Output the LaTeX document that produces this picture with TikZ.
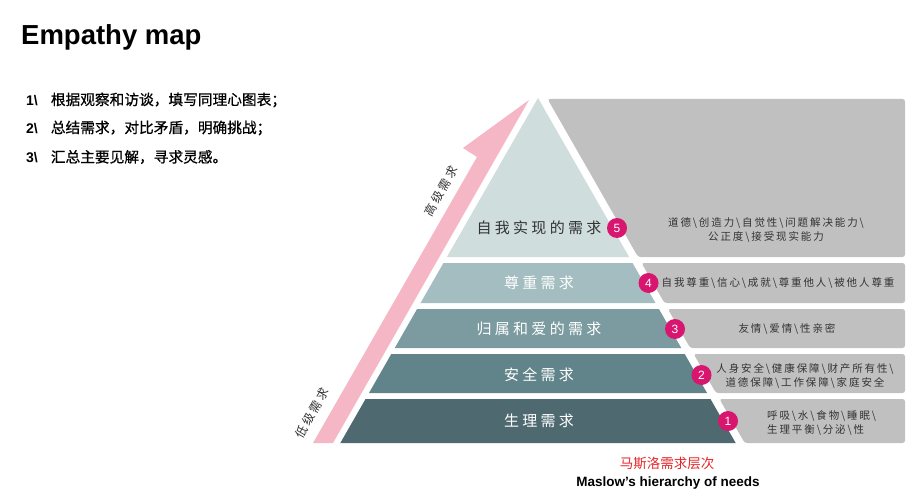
\documentclass[tikz,border=0pt]{standalone}
\usepackage{fontspec}
\setmainfont{Liberation Sans}
\newfontfamily\cjk{Noto Sans CJK SC}
\newfontfamily\cjkheavy{Noto Sans CJK SC}[FakeBold=0.6]
\definecolor{lvlfive}{HTML}{CFDDDD}
\definecolor{lvlfour}{HTML}{A3BDC1}
\definecolor{lvlthree}{HTML}{7B9BA0}
\definecolor{lvltwo}{HTML}{608489}
\definecolor{lvlone}{HTML}{4E6A70}
\definecolor{panelgray}{HTML}{C0C0C0}
\definecolor{paneltxt}{HTML}{333333}
\definecolor{arrowpink}{HTML}{F5B6C6}
\definecolor{badgemag}{HTML}{D8156F}
\definecolor{capred}{HTML}{E8262A}
\begin{document}
\begin{tikzpicture}[x=1pt,y=-1pt,
  pyrtext/.style={inner sep=0pt, font=\cjk\fontsize{15}{18}\selectfont\addfontfeature{LetterSpace=22}},
  paneltext/.style={inner sep=0pt, align=center, text=paneltxt,
     font=\cjk\fontsize{10.5}{14.5}\selectfont\addfontfeature{LetterSpace=18}},
  sidetext/.style={inner sep=0pt, text=paneltxt, rotate=60,
     font=\cjk\fontsize{12}{14}\selectfont\addfontfeature{LetterSpace=20}},
  badge/.style={circle, fill=badgemag, text=white, minimum size=20pt, inner sep=0pt,
     font=\fontsize{12}{12}\selectfont},
  listline/.style={inner sep=0pt, anchor=west, font=\fontsize{14}{16}\selectfont},
  panel/.style={fill=panelgray, rounded corners=2.5pt}
]
\useasboundingbox (0,0) rectangle (913,500);
\fill[white] (0,0) rectangle (913,500);

% edge coordinates
\foreach \y in {98,99,257,263,303,309,348,354,393,399,443} {
  \coordinate (R\y) at ({538+0.573*(\y-98)},\y);
  \coordinate (L\y) at ({538-0.573*(\y-98)},\y);
  \coordinate (G\y) at ({547+0.573*(\y-98)},\y);
}

% title and list
\node[inner sep=0pt, anchor=base west, font=\bfseries\fontsize{27.5}{30}\selectfont] (title) at (21,45) {Empathy map};
\node[listline] (l1) at (26,100) {{\bfseries 1\textbackslash}\hspace{13pt}{\cjkheavy\fontsize{14.7}{16}\selectfont 根据观察和访谈，填写同理心图表；}};
\node[listline] (l2) at (26,128) {{\bfseries 2\textbackslash}\hspace{13pt}{\cjkheavy\fontsize{14.7}{16}\selectfont 总结需求，对比矛盾，明确挑战；}};
\node[listline] (l3) at (26,157) {{\bfseries 3\textbackslash}\hspace{13pt}{\cjkheavy\fontsize{14.7}{16}\selectfont 汇总主要见解，寻求灵感。}};

% pink arrow
\fill[arrowpink] (313,443) -- (477,157) -- (463,148) -- (529,100) -- (333,443) -- cycle;

% pyramid
\fill[lvlfive] (R98) -- (R257) -- (L257) -- cycle;
\fill[lvlfour] (L263) -- (R263) -- (R303) -- (L303) -- cycle;
\fill[lvlthree] (L309) -- (R309) -- (R348) -- (L348) -- cycle;
\fill[lvltwo] (L354) -- (R354) -- (R393) -- (L393) -- cycle;
\fill[lvlone] (L399) -- (R399) -- (R443) -- (L443) -- cycle;

% gray panels
\fill[panel] (G99) -- (905,99) -- (905,257) -- (G257) -- cycle;
\fill[panel] (G263) -- (905,263) -- (905,303) -- (G303) -- cycle;
\fill[panel] (G309) -- (905,309) -- (905,348) -- (G348) -- cycle;
\fill[panel] (G354) -- (905,354) -- (905,393) -- (G393) -- cycle;
\fill[panel] (G399) -- (905,399) -- (905,443) -- (G443) -- cycle;

% pyramid texts
\node[pyrtext, text=paneltxt] (p5) at (539,228) {自我实现的需求};
\node[pyrtext, text=white] (p4) at (539,283) {尊重需求};
\node[pyrtext, text=white] (p3) at (539,329) {归属和爱的需求};
\node[pyrtext, text=white] (p2) at (539,375) {安全需求};
\node[pyrtext, text=white] (p1) at (539,421) {生理需求};

% panel texts
\node[paneltext] (t5) at (766,230) {道德\textbackslash 创造力\textbackslash 自觉性\textbackslash 问题解决能力\textbackslash\\公正度\textbackslash 接受现实能力};
\node[paneltext] (t4) at (778,283) {自我尊重\textbackslash 信心\textbackslash 成就\textbackslash 尊重他人\textbackslash 被他人尊重};
\node[paneltext] (t3) at (787,329) {友情\textbackslash 爱情\textbackslash 性亲密};
\node[paneltext] (t2) at (805,376) {人身安全\textbackslash 健康保障\textbackslash 财产所有性\textbackslash\\道德保障\textbackslash 工作保障\textbackslash 家庭安全};
\node[paneltext, align=left, anchor=west] (t1) at (767,423) {呼吸\textbackslash 水\textbackslash 食物\textbackslash 睡眠\textbackslash\\生理平衡\textbackslash 分泌\textbackslash 性};

% badges
\node[badge] (b5) at (617,228) {5};
\node[badge] (b4) at (648.5,283) {4};
\node[badge] (b3) at (675,329) {3};
\node[badge] (b2) at (701.5,375) {2};
\node[badge] (b1) at (728,421) {1};

% side labels
\node[sidetext] (hi) at (441,191) {高级需求};
\node[sidetext] (lo) at (312,413) {低级需求};

% caption
\node[inner sep=0pt, text=capred, font=\cjk\fontsize{13.5}{16}\selectfont] (cap1) at (667,463) {马斯洛需求层次};
\node[inner sep=0pt, font=\bfseries\fontsize{13.5}{16}\selectfont] (cap2) at (668,483) {Maslow's hierarchy of needs};
\end{tikzpicture}
\end{document}
